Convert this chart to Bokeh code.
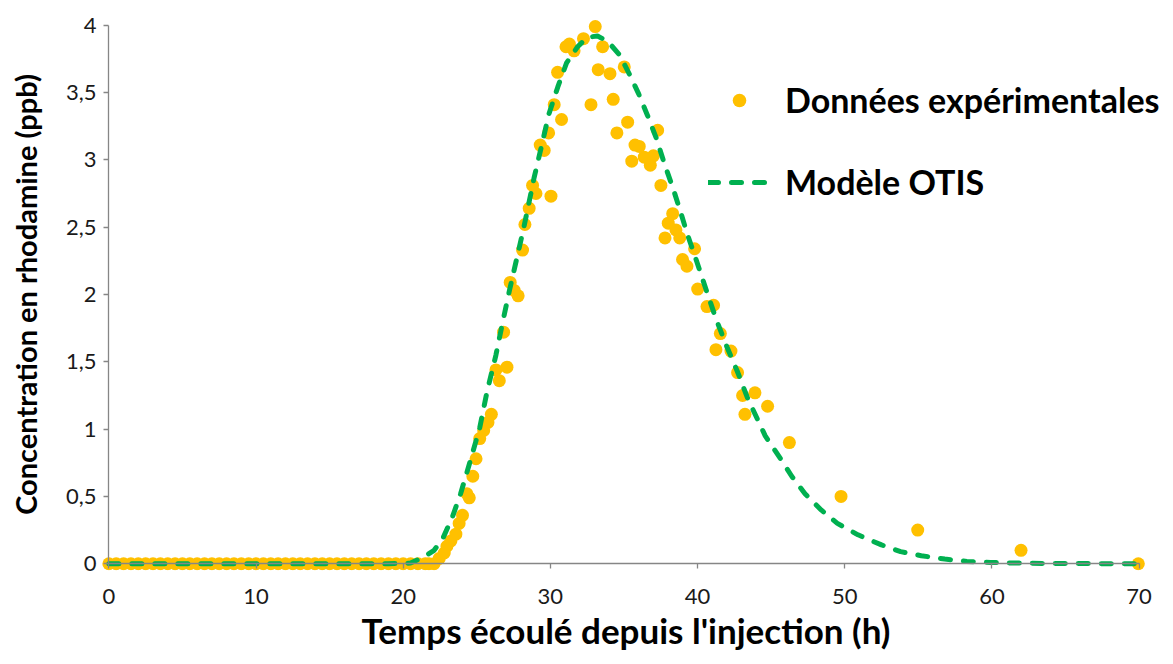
from bokeh.plotting import figure
from bokeh.models import (Range1d, FixedTicker, CustomJSTickFormatter, Legend, LegendItem,
                          LinearAxis, Title)
from bokeh.embed import file_html
from bokeh.resources import INLINE

# Experimental data (time in h, concentration in ppb)
exp_time = [0, 0.5, 1, 1.5, 2, 2.5, 3, 3.5, 4, 4.5, 5, 5.5, 6, 6.5, 7, 7.5, 8, 8.5, 9, 9.5,
            10, 10.5, 11, 11.5, 12, 12.5, 13, 13.5, 14, 14.5, 15, 15.5, 16, 16.5, 17, 17.5,
            18, 18.5, 19, 19.5, 20, 20.5, 21, 21.5, 21.75, 22.1,
            22.45, 22.79, 22.97, 23.24, 23.58, 23.80, 24.03, 24.33, 24.49, 24.73, 24.95,
            25.20, 25.47, 25.76, 25.99, 26.30, 26.53, 26.82, 27.05, 27.27, 27.54, 27.81,
            28.11, 28.27, 28.56, 28.79, 29.02, 29.31, 29.58, 29.88, 30.04, 30.26, 30.49,
            30.76, 31.06, 31.29, 31.61, 32.25, 32.76, 33.05, 33.25, 33.55, 34.05, 34.27,
            34.52, 35.02, 35.25, 35.53, 35.75, 36.04, 36.38, 36.79, 37.00, 37.29, 37.51,
            37.79, 38.01, 38.31, 38.53, 38.79, 38.98, 39.28, 39.80, 40.01, 40.64, 41.09,
            41.25, 41.55, 42.27, 42.72, 43.06, 43.22, 43.90, 44.76, 46.24, 49.75, 54.96,
            61.98, 69.95]
exp_conc = [0] * 46 + [
            0.04, 0.08, 0.13, 0.17, 0.22, 0.30, 0.36, 0.52, 0.49, 0.65, 0.78,
            0.93, 0.99, 1.05, 1.11, 1.44, 1.36, 1.72, 1.46, 2.09, 2.03, 1.99,
            2.33, 2.52, 2.64, 2.81, 2.75, 3.11, 3.07, 3.20, 2.73, 3.41, 3.65,
            3.30, 3.84, 3.86, 3.81, 3.90, 3.41, 3.99, 3.67, 3.84, 3.64, 3.45,
            3.20, 3.69, 3.28, 2.99, 3.11, 3.10, 3.02, 2.96, 3.03, 3.22, 2.81,
            2.42, 2.53, 2.60, 2.48, 2.42, 2.26, 2.21, 2.34, 2.04, 1.91, 1.92,
            1.59, 1.71, 1.58, 1.42, 1.25, 1.11, 1.27, 1.17, 0.90, 0.50, 0.25,
            0.10, 0.0]

# OTIS model
model_time = [0, 10, 19, 20.5, 21.4, 22.1, 22.7, 23.35, 23.9, 24.6, 25.2, 25.7, 26.3, 26.75,
              27.2, 28.2, 28.9, 29.5, 29.9, 30.5, 31.1, 31.85, 32.5, 33.2, 33.9, 34.7, 35.4,
              36.0, 36.6, 37.2, 37.75, 38.3, 38.8, 39.3, 39.9, 40.6, 41.25, 42.0, 42.7, 43.4,
              44.0, 44.6, 45.7, 46.4, 47.3, 48.4, 49.5, 50.9, 52.5, 53.8, 55.2, 56.8, 58.3,
              59.9, 61.7, 64, 70]
model_conc = [0, 0, 0, 0.005, 0.05, 0.10, 0.19, 0.35, 0.52, 0.78, 1.01, 1.28, 1.55, 1.79,
              2.02, 2.50, 2.87, 3.15, 3.34, 3.54, 3.72, 3.84, 3.91, 3.92, 3.88, 3.78, 3.63,
              3.49, 3.33, 3.16, 2.97, 2.80, 2.63, 2.45, 2.26, 2.03, 1.82, 1.61, 1.43, 1.23,
              1.09, 0.95, 0.77, 0.65, 0.52, 0.40, 0.30, 0.215, 0.14, 0.09, 0.06, 0.035, 0.017,
              0.01, 0.005, 0.002, 0]

x_ticks = [0, 10, 20, 30, 40, 50, 60, 70]
y_ticks = [0, 0.5, 1, 1.5, 2, 2.5, 3, 3.5, 4]

FONT = "Lato"
AXIS_COL = "#868686"

p = figure(frame_width=1067, frame_height=552,
           min_border_left=101, min_border_right=0, min_border_top=18, min_border_bottom=90,
           x_range=Range1d(-0.5, 72), y_range=Range1d(-0.05, 4.05),
           output_backend="svg", toolbar_location=None)
p.outline_line_color = None
p.xgrid.visible = False
p.ygrid.visible = False

r_exp = p.scatter(exp_time, exp_conc, size=13, fill_color="#FFC000", line_color=None)
r_mod = p.line(model_time, model_conc, line_color="#00B050", line_width=5,
               line_dash="10 13", line_cap="round")

# axis lines and ticks drawn at data zero
for ax in (p.xaxis[0], p.yaxis[0]):
    ax.fixed_location = 0
    ax.axis_line_color = AXIS_COL
    ax.major_tick_line_color = AXIS_COL
    ax.axis_line_width = 1.3
    ax.major_tick_line_width = 1.3
    ax.major_tick_in = 0
    ax.major_tick_out = 5
    ax.minor_tick_line_color = None
    ax.major_label_text_alpha = 0
p.xaxis[0].ticker = FixedTicker(ticks=x_ticks)
p.yaxis[0].ticker = FixedTicker(ticks=y_ticks)
p.xaxis[0].bounds = (0, 70)
p.yaxis[0].bounds = (0, 4)

# label axes in the side panels
xlab = LinearAxis(ticker=FixedTicker(ticks=x_ticks), bounds=(0, 70))
ylab = LinearAxis(ticker=FixedTicker(ticks=y_ticks), bounds=(0, 4),
                  axis_label="Concentration en rhodamine (ppb)",
                  formatter=CustomJSTickFormatter(code="return tick.toString().replace('.', ',');"))
for ax in (xlab, ylab):
    ax.axis_line_color = None
    ax.major_tick_line_color = None
    ax.minor_tick_line_color = None
    ax.major_tick_in = 0
    ax.major_tick_out = 0
    ax.major_label_text_font = FONT
    ax.major_label_text_font_size = "22px"
    ax.major_label_text_color = "#1a1a1a"
    ax.axis_label_text_font = FONT
    ax.axis_label_text_font_style = "bold"
    ax.axis_label_text_color = "#000000"
ylab.axis_label_text_font_size = "29px"
xlab.major_label_standoff = 18
ylab.major_label_standoff = 5
ylab.axis_label_standoff = 20
p.add_layout(xlab, "below")
p.add_layout(ylab, "left")

# x-axis title, centred under the 0-70 span
xtitle = Title(text="Temps écoulé depuis l'injection (h)", align="left", offset=260,
               vertical_align="top", standoff=4, text_font=FONT, text_font_style="bold",
               text_font_size="35px", text_color="#000000")
p.add_layout(xtitle, "below")

legend = Legend(items=[LegendItem(label="Données expérimentales", renderers=[r_exp]),
                       LegendItem(label="Modèle OTIS", renderers=[r_mod])],
                location=(607, 368), padding=0, margin=0, spacing=41,
                glyph_width=62, glyph_height=34, label_height=34, label_standoff=15,
                label_text_font=FONT, label_text_font_style="bold",
                label_text_font_size="34px", label_text_color="#000000",
                border_line_color=None, background_fill_alpha=0)
p.add_layout(legend, "center")

open("out.html", "w").write(file_html(p, INLINE))
